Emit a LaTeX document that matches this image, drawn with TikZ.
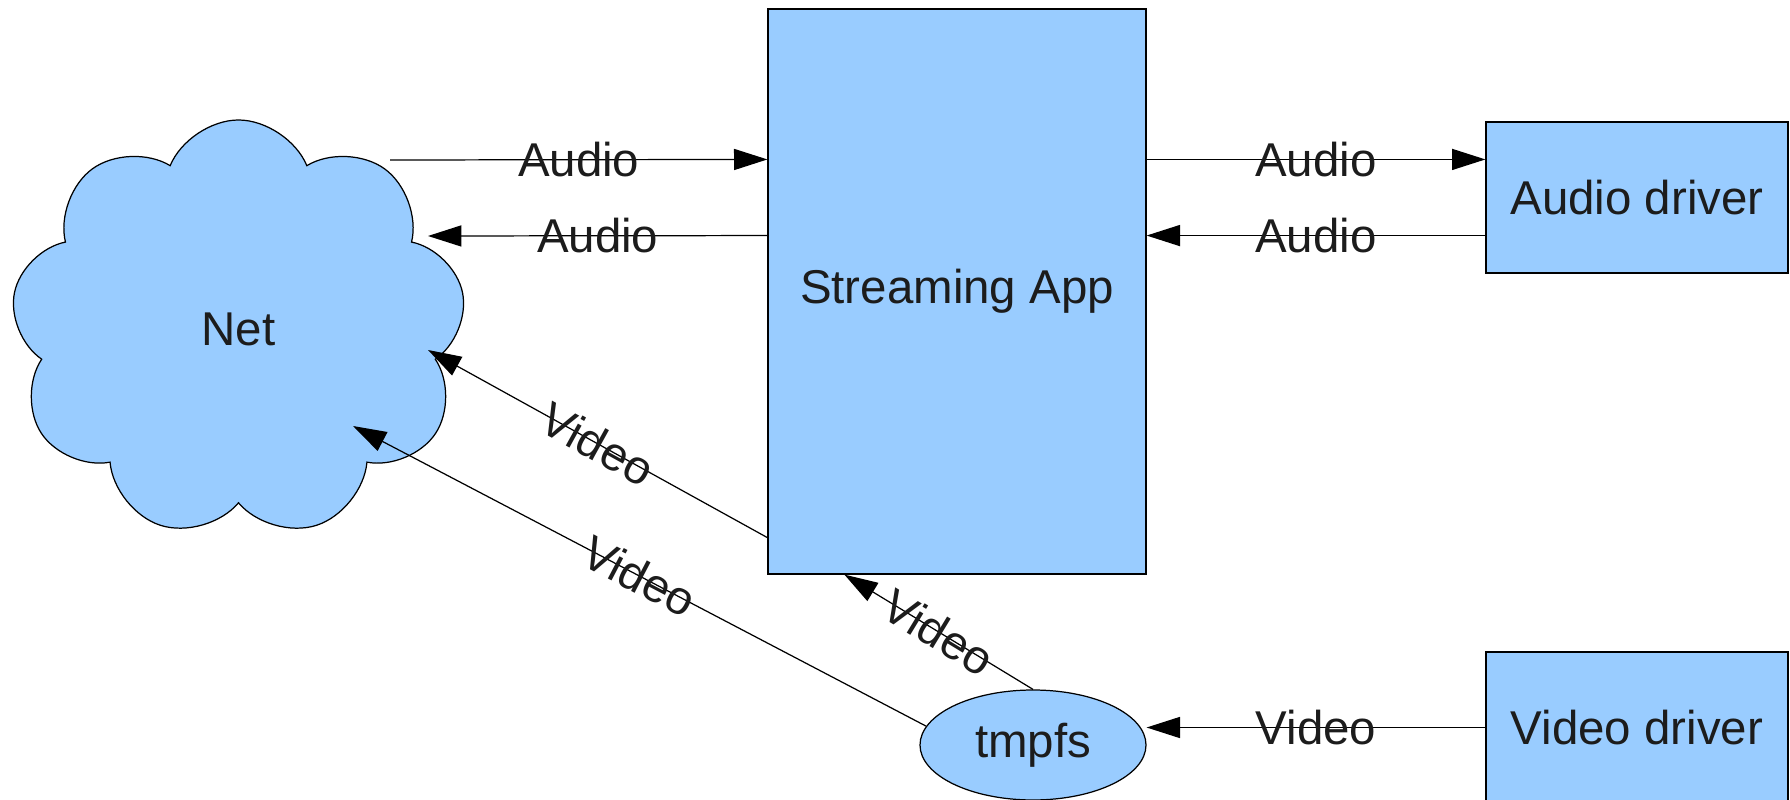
\documentclass[tikz,border=0pt]{standalone}
\usepackage{fontspec}
\setmainfont{Liberation Sans}
\usetikzlibrary{arrows.meta,shapes.geometric,shapes.symbols,calc}
\definecolor{boxblue}{HTML}{99CCFF}
\definecolor{txtgray}{HTML}{1C1C1C}
\begin{document}
\begin{tikzpicture}[
		every node/.style={font=\fontsize{13.5}{16}\selectfont, text=txtgray},
		blockbox/.style={draw, line width=0.35pt, fill=boxblue},
		flow/.style={line width=0.35pt, -{Triangle[length=9.5pt, width=6pt]}},
		lbl/.style={inner sep=0pt}]
		\useasboundingbox (0,0) rectangle (17.9,-8);
		
		\node [blockbox, cloud, cloud puffs=9, cloud puff arc=135, shape border rotate=10, cloud ignores aspect, minimum width=4.55cm, minimum height=4.18cm] (net) at (2.385,-3.29) {Net\hspace{0.3cm}};
		\node [blockbox, minimum width=3.78cm, minimum height=5.65cm] (app) at (9.57,-2.915) {Streaming App};
		\node [blockbox, minimum width=3.02cm, minimum height=1.51cm] (adrv) at (16.37,-1.975) {Audio driver};
		\node [blockbox, minimum width=3.02cm, minimum height=1.51cm] (vdrv) at (16.37,-7.275) {Video driver};
		\node [blockbox, ellipse, minimum width=2.26cm, minimum height=1.10cm] (tmpfs) at (10.33,-7.45) {tmpfs};
		
		\coordinate (a1) at ($(adrv.north west)!.25!(adrv.south west)$);
		\coordinate (a2) at ($(adrv.north west)!.75!(adrv.south west)$);
		\coordinate (n1) at (3.90,-1.60);
		\coordinate (n2) at (4.28,-2.36);
		\coordinate (n3) at (4.28,-3.50);
		\coordinate (n4) at (3.53,-4.26);
		\coordinate (v1) at ($(app.south west)+(0,0.37)$);
		\coordinate (v2) at ($(app.south west)+(0.77,0)$);
		
		\draw [flow] (n1) -- node[lbl] {Audio} (app.west |- a1);
		\draw [flow] (app.west |- a2) -- node[lbl] {Audio} (n2);
		\draw [flow] (app.east |- a1) -- node[lbl] {Audio} (a1);
		\draw [flow] (a2) -- node[lbl] {Audio} (app.east |- a2);
		\draw [flow] (v1) -- node[lbl, sloped] {Video} (n3);
		\draw [flow] (tmpfs.170) -- node[lbl, sloped] {Video} (n4);
		\draw [flow] (tmpfs.north) -- node[lbl, sloped] {Video} (v2);
		\draw [flow] (vdrv.west) -- node[lbl] {Video} (vdrv.west -| tmpfs.east);
	\end{tikzpicture}
\end{document}
